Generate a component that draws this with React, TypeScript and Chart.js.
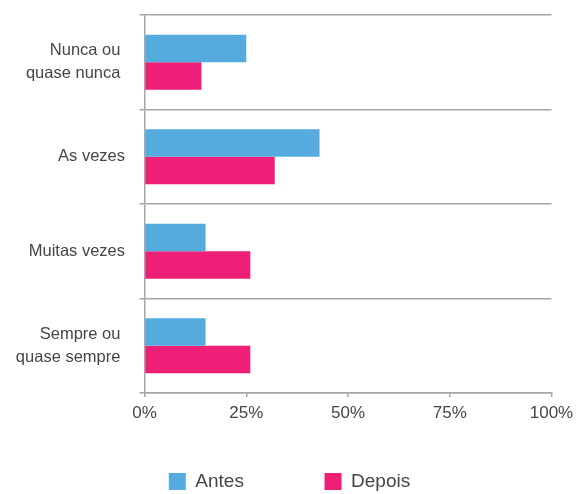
import { useEffect, useRef } from 'react';
import { Chart, registerables } from 'chart.js';

Chart.register(...registerables);

const categories: (string | string[])[] = [
  ['Nunca ou ', 'quase nunca '],
  'As vezes',
  'Muitas vezes',
  ['Sempre ou ', 'quase sempre '],
];
const seriesNames = ['Antes', 'Depois'];
const antes = [25, 43, 15, 15];
const depois = [14, 32, 26, 26];
const xTicks = [0, 25, 50, 75, 100];

export default function App() {
  const ref = useRef<HTMLCanvasElement>(null);

  useEffect(() => {
    const gridColor = '#a6a6a6';
    const textColor = '#454545';
    const family = "'Liberation Sans', Arial, sans-serif";
    const chart = new Chart(ref.current as HTMLCanvasElement, {
      type: 'bar',
      data: {
        labels: categories as any,
        datasets: [
          {
            label: seriesNames[0],
            data: antes,
            backgroundColor: '#55ABDD',
            borderWidth: 0,
            categoryPercentage: 0.582,
            barPercentage: 1,
          },
          {
            label: seriesNames[1],
            data: depois,
            backgroundColor: '#EE1F77',
            borderWidth: 0,
            categoryPercentage: 0.582,
            barPercentage: 1,
          },
        ],
      },
      options: {
        indexAxis: 'y',
        responsive: false,
        animation: false,
        layout: { padding: { top: 15, left: 0, right: 0, bottom: -7 } },
        scales: {
          x: {
            min: 0,
            max: 100,
            afterBuildTicks: (s: any) => {
              s.ticks = xTicks.map((v) => ({ value: v }));
            },
            afterFit: (s: any) => {
              s.height = 30;
              s.paddingLeft = 0;
              s.paddingRight = 27.5;
            },
            ticks: {
              callback: (v: any) => v + '%',
              padding: 6,
              autoSkip: false,
              maxRotation: 0,
              color: textColor,
              font: { family, size: 17 },
            },
            grid: {
              drawOnChartArea: false,
              drawTicks: true,
              tickLength: 4,
              color: gridColor,
              lineWidth: 1.5,
            },
            border: { display: true, color: gridColor, width: 1.5 },
          },
          y: {
            afterFit: (s: any) => {
              s.width = 144.5;
              s.paddingTop = 0;
              s.paddingBottom = 0;
            },
            grid: {
              offset: true,
              color: gridColor,
              lineWidth: 1.5,
              tickLength: 5,
            },
            border: { display: true, color: gridColor, width: 1.5 },
            ticks: {
              padding: 14.5,
              autoSkip: false,
              color: textColor,
              font: { family, size: 16.5, lineHeight: 1.375 },
            },
          },
        },
        plugins: {
          tooltip: { enabled: false },
          legend: {
            position: 'bottom',
            labels: {
              boxWidth: 17,
              boxHeight: 17,
              padding: 49,
              color: textColor,
              font: { family, size: 19 },
              generateLabels: (c: any) => {
                const items = (Chart.defaults.plugins.legend.labels as any).generateLabels(c);
                return items.map((it: any, i: number) => ({
                  ...it,
                  text: i < items.length - 1 ? it.text + '\u00A0'.repeat(6) : it.text,
                }));
              },
            },
          },
        },
      },
    } as any);
    return () => chart.destroy();
  }, []);

  return (
    <div style={{ position: 'fixed', left: 0, top: 0, width: 579, height: 494 }}>
      <canvas ref={ref} width={579} height={494} style={{ display: 'block' }} />
    </div>
  );
}
